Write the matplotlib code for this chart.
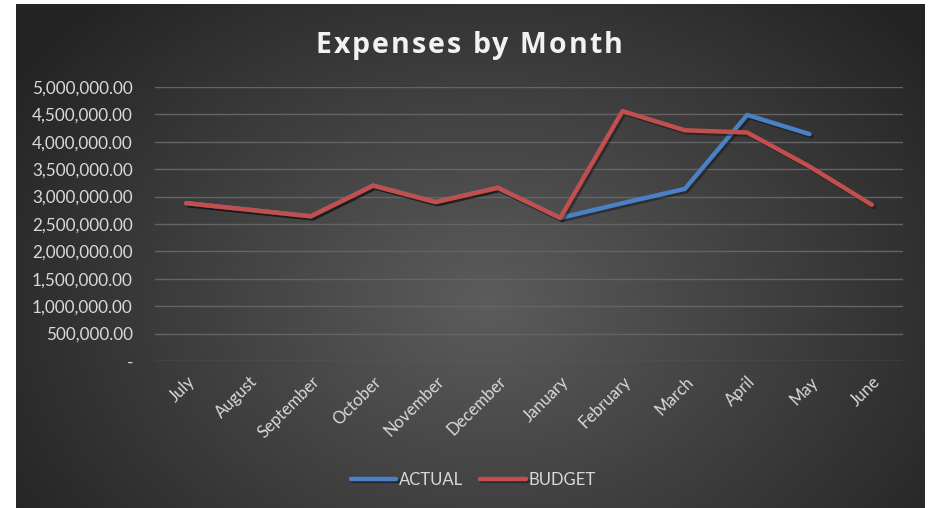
import numpy as np
import matplotlib
matplotlib.use('Agg')
import matplotlib.pyplot as plt
import matplotlib.patheffects as pe
import matplotlib.transforms as mtrans
from matplotlib.ticker import FuncFormatter
from matplotlib.font_manager import FontProperties, findfont, get_font

months = ['July', 'August', 'September', 'October', 'November', 'December',
          'January', 'February', 'March', 'April', 'May', 'June']
budget = [2880000, 2760000, 2640000, 3200000, 2900000, 3160000,
          2610000, 4560000, 4210000, 4170000, 3550000, 2850000]
actual = [2880000, 2760000, 2640000, 3200000, 2900000, 3160000,
          2610000, 2880000, 3140000, 4490000, 4140000]
yticks = [0, 500000, 1000000, 1500000, 2000000, 2500000,
          3000000, 3500000, 4000000, 4500000, 5000000]
title = 'Expenses by Month'

W, H = 931, 508
fig = plt.figure(figsize=(W / 100, H / 100), dpi=100, facecolor='white')

# radial gradient background
bg = fig.add_axes([16 / W, 0, 909 / W, 504 / H])
bg.set_axis_off()
yy, xx = np.mgrid[0:504, 0:909]
cx, cy = 470, 300
d = np.sqrt(((xx - cx) / 560.0) ** 2 + ((yy - cy) / 420.0) ** 2)
val = 92 - (92 - 36) * np.clip(d, 0, 1)
img = np.dstack([val, val, val]) / 255.0
bg.imshow(img, aspect='auto', extent=(0, 1, 0, 1), origin='upper')
bg.set_xlim(0, 1)
bg.set_ylim(0, 1)

ax = fig.add_axes([155 / W, 1 - 361 / H, 748 / W, 274 / H])
ax.patch.set_alpha(0)
x = np.arange(len(months))
shadow = [pe.SimpleLineShadow(offset=(1.5, -1.5), shadow_color='black', alpha=0.35), pe.Normal()]
ax.plot(x[:len(actual)], actual, color='#4a80c6', lw=3.2, solid_capstyle='round',
        solid_joinstyle='round', label='ACTUAL', path_effects=shadow, zorder=3)
ax.plot(x, budget, color='#c24f4d', lw=3.2, solid_capstyle='round',
        solid_joinstyle='round', label='BUDGET', path_effects=shadow, zorder=4)

ax.set_xlim(-0.5, len(months) - 0.5)
ax.set_ylim(0, 5000000)
ax.set_yticks(yticks)
ax.yaxis.set_major_formatter(FuncFormatter(lambda v, p: '-' if v == 0 else f'{v:,.2f}'))
ax.grid(axis='y', color='#646464', lw=1)
ax.set_axisbelow(True)
for s in ax.spines.values():
    s.set_visible(False)
ax.tick_params(axis='y', length=0, pad=16, labelsize=12.3, labelcolor='#d9d9d9')
ax.tick_params(axis='x', length=0, pad=13, labelsize=12, labelcolor='#d9d9d9')
for lab in ax.get_yticklabels():
    lab.set_family('Lato')
ax.set_xticks(x)
ax.set_xticklabels(months, rotation=45, ha='right', va='center', rotation_mode='anchor', family='Lato')
shift = mtrans.ScaledTranslation(6 / 100, 0, fig.dpi_scale_trans)
for lab in ax.get_xticklabels():
    lab.set_transform(lab.get_transform() + shift)

# title with letter spacing, drawn one character at a time
tsize = 20.5
tprop = FontProperties(family='Open Sans', weight='bold', size=tsize)
tfont = get_font(findfont(tprop))
tfont.set_size(tsize, 100)
adv = [tfont.load_char(ord(c)).linearHoriAdvance / 65536 for c in title]
spacing = 2.0
total = sum(adv) + spacing * (len(title) - 1)
xpos = 469 - total / 2
for c, a in zip(title, adv):
    fig.text(xpos / W, 1 - 53 / H, c, ha='left', va='baseline', fontproperties=tprop,
             color='#f2f2f2')
    xpos += a + spacing

leg = ax.legend(loc='center', bbox_to_anchor=(473 / W, 1 - 480 / H), bbox_transform=fig.transFigure,
                ncol=2, frameon=False, handlelength=2.75, handletextpad=0.15,
                columnspacing=1.0, prop={'family': 'Lato', 'size': 12})
for t in leg.get_texts():
    t.set_color('#d9d9d9')

fig.savefig('out.png', dpi=100, facecolor='white')
